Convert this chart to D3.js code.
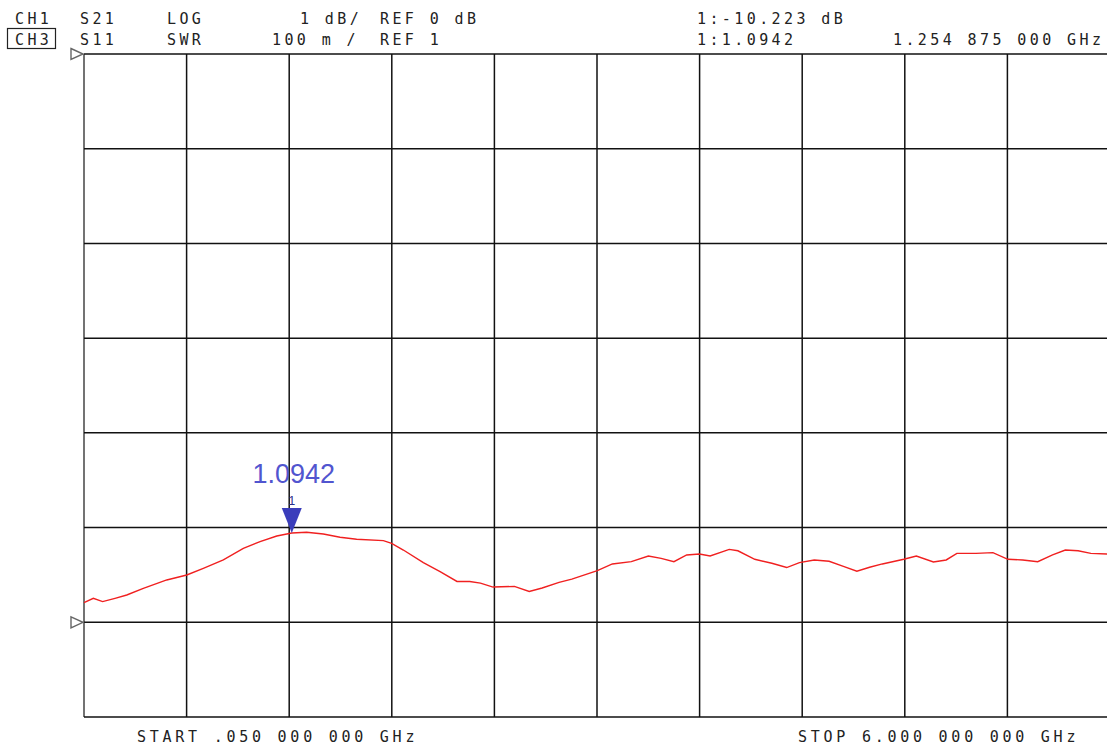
<!DOCTYPE html>
<html>
<head>
<meta charset="utf-8">
<script src="https://cdn.jsdelivr.net/npm/d3@7"></script>
<style>
  body { margin: 0; background: #fff; }
  svg { display: block; }
  .hdr { font-family: "DejaVu Sans Mono", monospace; font-size: 15px; fill: #222; letter-spacing: 3.4px; }
  .ftr { letter-spacing: 3.75px; }
</style>
</head>
<body>
<svg id="chart" width="1107" height="745"></svg>
<script>
// sweep settings
var startGHz = 0.05, stopGHz = 6.0;
var refValue = 1, perDiv = 0.1;
var divsAbove = 6, divsBelow = 1, xDivs = 10;

// S11 SWR trace (GHz, SWR)
var freqs = [0.050, 0.104, 0.158, 0.230, 0.298, 0.394, 0.530, 0.646, 0.742, 0.858,
  0.974, 1.071, 1.168, 1.255, 1.341, 1.438, 1.535, 1.631, 1.786, 1.834,
  1.902, 2.018, 2.115, 2.213, 2.287, 2.349, 2.422, 2.546, 2.632, 2.707,
  2.805, 2.879, 3.027, 3.114, 3.224, 3.323, 3.397, 3.471, 3.545, 3.619,
  3.681, 3.792, 3.842, 3.940, 4.039, 4.125, 4.199, 4.285, 4.371, 4.458,
  4.532, 4.606, 4.680, 4.804, 4.877, 4.976, 5.050, 5.112, 5.223, 5.321,
  5.408, 5.494, 5.581, 5.667, 5.741, 5.815, 5.889, 5.982, 6.000];
var swr = [1.0207, 1.0253, 1.0218, 1.0253, 1.0288, 1.0359, 1.0447, 1.0499, 1.0570, 1.0658,
  1.0781, 1.0851, 1.0911, 1.0942, 1.0950, 1.0932, 1.0898, 1.0876, 1.0862, 1.0834,
  1.0763, 1.0629, 1.0535, 1.0431, 1.0431, 1.0414, 1.0372, 1.0379, 1.0326, 1.0362,
  1.0421, 1.0456, 1.0546, 1.0616, 1.0640, 1.0700, 1.0675, 1.0640, 1.0711, 1.0721,
  1.0700, 1.0770, 1.0755, 1.0665, 1.0623, 1.0578, 1.0630, 1.0658, 1.0644, 1.0588,
  1.0540, 1.0581, 1.0616, 1.0665, 1.0700, 1.0637, 1.0658, 1.0728, 1.0728, 1.0735,
  1.0665, 1.0658, 1.0640, 1.0711, 1.0763, 1.0755, 1.0728, 1.0721, 1.0715];

var markerGHz = 1.254875, markerValue = 1.0942;

var hdrLine1 = [["CH1", 15], ["S21", 80], ["LOG", 167], ["1 dB/", 300], ["REF 0 dB", 380], ["1:-10.223 dB", 697]];
var hdrLine2 = [["CH3", 15], ["S11", 80], ["SWR", 167], ["100 m /", 272], ["REF 1", 380], ["1:1.0942", 697], ["1.254 875 000 GHz", 893]];
var footer = [["START .050 000 000 GHz", 137], ["STOP 6.000 000 000 GHz", 798]];

var svg = d3.select("#chart");
var plotL = 84, plotR = 1110, plotT = 54, plotB = 717;

var x = d3.scaleLinear().domain([startGHz, stopGHz]).range([plotL, plotR]);
var y = d3.scaleLinear()
    .domain([refValue - divsBelow * perDiv, refValue + divsAbove * perDiv])
    .range([plotB, plotT]);

// graticule
var xTicks = d3.range(xDivs + 1).map(i => startGHz + i * (stopGHz - startGHz) / xDivs);
var yTicks = d3.range(divsBelow + divsAbove + 1).map(i => refValue - divsBelow * perDiv + i * perDiv);

svg.append("g").selectAll("line").data(xTicks).enter().append("line")
    .attr("x1", d => x(d)).attr("x2", d => x(d))
    .attr("y1", plotT).attr("y2", plotB)
    .attr("stroke", (d, i) => i == 0 ? "#444" : "#111")
    .attr("stroke-width", 1.5);

svg.append("g").selectAll("line").data(yTicks).enter().append("line")
    .attr("x1", plotL).attr("x2", plotR)
    .attr("y1", d => y(d)).attr("y2", d => y(d))
    .attr("stroke", "#111")
    .attr("stroke-width", 1.5);

// reference position triangles
[refValue + divsAbove * perDiv, refValue].forEach(function (v) {
    var yy = y(v);
    svg.append("path")
        .attr("d", "M" + (plotL - 13) + "," + (yy - 5.5) + "L" + (plotL - 1) + "," + yy + "L" + (plotL - 13) + "," + (yy + 5.5) + "Z")
        .attr("fill", "#fff")
        .attr("stroke", "#666")
        .attr("stroke-width", 1.4);
});

// trace
var line = d3.line()
    .x((d, i) => x(freqs[i]))
    .y(d => y(d));

svg.append("path")
    .datum(swr)
    .attr("d", line)
    .attr("fill", "none")
    .attr("stroke", "#f02020")
    .attr("stroke-width", 1.4);

// marker
var mx = x(markerGHz), my = y(markerValue);
svg.append("path")
    .attr("d", "M" + (mx - 10) + "," + (my - 25) + "L" + (mx + 10) + "," + (my - 25) + "L" + mx + "," + my + "Z")
    .attr("fill", "#3a3dbb");
svg.append("text")
    .attr("x", mx).attr("y", my - 28)
    .attr("text-anchor", "middle")
    .style("font-family", "Liberation Sans, Arial, sans-serif")
    .style("font-size", "12px")
    .style("fill", "#2a2c8a")
    .text("1");
svg.append("text")
    .attr("x", mx + 2).attr("y", my - 50)
    .attr("text-anchor", "middle")
    .style("font-family", "Liberation Sans, Arial, sans-serif")
    .style("font-size", "27px")
    .style("fill", "#5155cf")
    .text(markerValue.toFixed(4));

// header and footer text
function putText(rows, yy, cls) {
    svg.append("g").selectAll("text").data(rows).enter().append("text")
        .attr("class", cls)
        .attr("x", d => d[1]).attr("y", yy)
        .attr("xml:space", "preserve")
        .text(d => d[0]);
}
putText(hdrLine1, 24, "hdr");
putText(hdrLine2, 45, "hdr");
putText(footer, 742, "hdr ftr");

// active channel box
svg.append("rect")
    .attr("x", 7.5).attr("y", 28.5)
    .attr("width", 48).attr("height", 20)
    .attr("fill", "none")
    .attr("stroke", "#222")
    .attr("stroke-width", 1.2);
</script>
</body>
</html>
